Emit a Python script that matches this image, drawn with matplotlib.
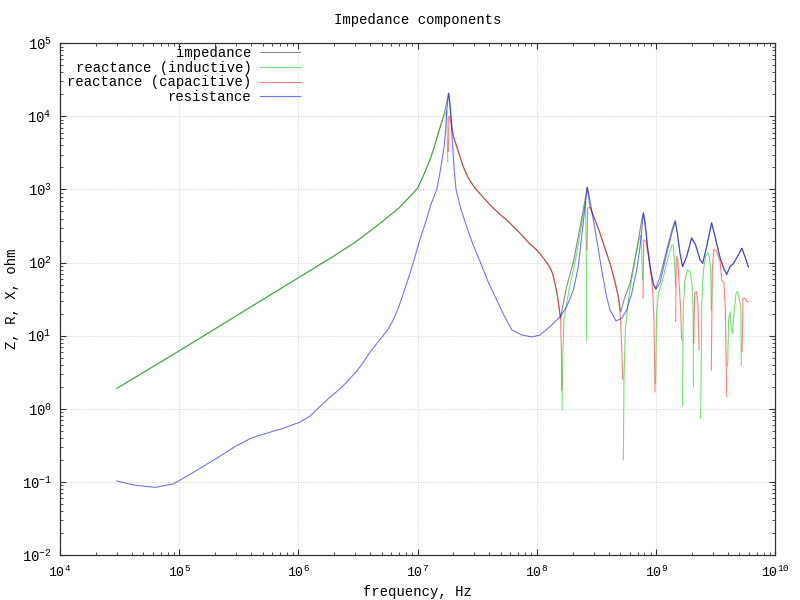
import numpy as np
import matplotlib
matplotlib.use("Agg")
import matplotlib.pyplot as plt

nan = np.nan

# impedance |Z|
imp_f = [3.0e4, 1.0e5, 1.0e6, 2.0e6, 3.0e6, 4.84e6, 7.0e6, 8.5e6, 1.0e7, 1.13e7,
         1.27e7, 1.38e7, 1.49e7, 1.58e7, 1.65e7, 1.75e7, 1.79e7, 1.82e7, 1.85e7, 1.87e7,
         1.93e7, 2.0e7, 2.13e7, 2.27e7, 2.4e7, 2.67e7, 3.03e7, 3.5e7, 4.06e7, 4.8e7,
         5.58e7, 6.5e7, 7.47e7, 8.6e7, 9.97e7, 1.064e8, 1.15e8, 1.29e8, 1.36e8, 1.42e8,
         1.47e8, 1.52e8, 1.555e8, 1.585e8, 1.67e8, 1.78e8, 2.03e8, 2.31e8, 2.54e8, 2.65e8,
         2.79e8, 3.39e8, 4.11e8, 4.83e8, 5.06e8, 5.5e8, 6.06e8, 6.89e8, 7.59e8, 7.84e8,
         8.25e8, 8.91e8, 9.5e8, 9.93e8, 1.08e9, 1.23e9, 1.36e9, 1.45e9, 1.51e9, 1.59e9,
         1.67e9, 1.81e9, 1.99e9, 2.15e9, 2.34e9, 2.46e9, 2.66e9, 2.93e9, 3.13e9, 3.45e9,
         3.72e9, 3.92e9, 4.18e9, 4.46e9, 4.91e9, 5.24e9, 5.59e9, 5.96e9]
imp_z = [1.9, 6.2, 62, 124, 190, 344, 560, 780, 1040, 1600,
         2540, 3800, 5870, 8000, 1.0e4, 1.5e4, 1.8e4, 2.07e4, 1.7e4, 1.3e4,
         8000, 5250, 3850, 2800, 2100, 1420, 1040, 800, 614, 470,
         383, 300, 239, 185, 149, 132, 112, 86, 70, 52,
         40, 28, 21, 17.3, 27.7, 46.9, 103, 310, 719, 1072,
         583, 252, 97.7, 34.2, 21.3, 34.2, 52, 149, 383, 482,
         252, 88, 49.4, 43.6, 64.3, 149, 279, 375, 252, 134,
         88, 121, 219, 174, 109, 97.7, 165, 352, 226, 118,
         83.6, 69.9, 88, 95.7, 127, 157, 118, 86]

# reactance (inductive), gaps where the sign flips
ind_f = [3.0e4, 1.0e5, 1.0e6, 2.0e6, 3.0e6, 4.84e6, 7.0e6, 8.5e6, 1.0e7, 1.13e7,
         1.27e7, 1.38e7, 1.49e7, 1.58e7, 1.65e7, 1.72e7, 1.76e7, 1.79e7, nan,
         1.63e8, 1.65e8, 1.69e8, 1.78e8, 1.9e8, 2.03e8, 2.16e8, 2.31e8, 2.46e8, 2.57e8, 2.61e8, 2.62e8, nan,
         5.32e8, 5.39e8, 5.53e8, 5.75e8, 6.06e8, 6.46e8, 6.89e8, 7.35e8, 7.54e8, 7.69e8, nan,
         9.93e8, 1.01e9, 1.05e9, 1.12e9, 1.19e9, 1.27e9, 1.36e9, 1.40e9, 1.44e9, 1.46e9, nan,
         1.67e9, 1.69e9, 1.75e9, 1.83e9, 1.93e9, 2.0e9, 2.05e9, 2.06e9, nan,
         2.37e9, 2.42e9, 2.5e9, 2.61e9, 2.71e9, 2.8e9, 2.88e9, 2.91e9, nan,
         3.99e9, 4.07e9, 4.18e9, 4.29e9, 4.37e9, 4.51e9, 4.69e9, 4.84e9, 5.0e9, 5.14e9, 5.2e9]
ind_z = [1.9, 6.2, 62, 124, 190, 344, 560, 780, 1040, 1600,
         2540, 3800, 5870, 8000, 9900, 1.1e4, 1.2e4, 2400, nan,
         0.96, 5.2, 16.4, 27.7, 49.4, 79.3, 134, 252, 472, 683, 79.3, 8.7, nan,
         0.2, 2.75, 12.0, 22.5, 44.5, 79.3, 149, 226, 239, 57.8, nan,
         2.2, 20.2, 38, 52.1, 79.3, 121, 174, 174, 79.3, 46.9, nan,
         1.13, 22.5, 57.8, 79.3, 75.2, 52.1, 22.5, 2.0, nan,
         0.74, 27.7, 79.3, 121, 137, 121, 79.3, 22.5, nan,
         3.8, 16.4, 21.3, 12.0, 10.8, 20.2, 38, 40.1, 30.8, 24.9, 3.97]

# reactance (capacitive)
cap_f = [1.81e7, 1.83e7, 1.87e7, 1.93e7, 2.0e7, 2.13e7, 2.27e7, 2.4e7, 2.67e7, 3.03e7,
         3.5e7, 4.06e7, 4.8e7, 5.58e7, 6.5e7, 7.47e7, 8.6e7, 9.97e7, 1.064e8, 1.15e8,
         1.29e8, 1.36e8, 1.42e8, 1.47e8, 1.52e8, 1.555e8, 1.585e8, 1.61e8, 1.62e8, nan,
         2.64e8, 2.67e8, 2.79e8, 3.08e8, 3.39e8, 3.73e8, 4.11e8, 4.53e8, 4.83e8, 5.02e8, 5.16e8, 5.26e8, nan,
         7.78e8, 7.89e8, 8.25e8, 8.91e8, 9.38e8, 9.62e8, 9.81e8, nan,
         1.46e9, 1.48e9, 1.52e9, 1.57e9, 1.61e9, 1.64e9, nan,
         2.07e9, 2.11e9, 2.18e9, 2.25e9, 2.3e9, nan,
         2.91e9, 2.97e9, 3.05e9, 3.17e9, 3.3e9, 3.45e9, 3.56e9, 3.72e9, 3.82e9, 3.92e9, nan,
         5.27e9, 5.37e9, 5.59e9, 5.77e9, 5.96e9]
cap_z = [3300, 1.0e4, 9900, 7000, 5250, 3850, 2800, 2100, 1420, 1040,
         800, 614, 470, 383, 300, 239, 185, 149, 132, 112,
         86, 70, 52, 40, 28, 21, 16.4, 5.2, 1.8, nan,
         149, 553, 571, 383, 252, 157, 97.7, 57.8, 34.2, 18.2, 7.1, 2.5, nan,
         32.4, 204, 194, 88, 42.2, 16.4, 1.7, nan,
         15.6, 121, 109, 46.9, 22.5, 8.7, nan,
         7.9, 38, 40.1, 27.7, 6.4, nan,
         3.4, 79.3, 149, 149, 127, 103, 57.8, 52.1, 22.5, 1.47, nan,
         6.05, 32.4, 32.4, 29.2, 29.2]

# resistance
res_f = [3.0e4, 4.1e4, 6.3e4, 8.9e4, 1.08e5, 1.49e5, 2.06e5, 3.0e5, 3.93e5, 4.6e5,
         5.4e5, 6.3e5, 7.47e5, 8.6e5, 1.0e6, 1.1e6, 1.25e6, 1.4e6, 1.62e6, 1.85e6,
         2.09e6, 2.4e6, 2.71e6, 3.1e6, 3.5e6, 4.0e6, 5.0e6, 5.6e6, 6.2e6, 6.9e6,
         7.6e6, 8.4e6, 9.2e6, 1.03e7, 1.16e7, 1.3e7, 1.45e7, 1.55e7, 1.67e7, 1.72e7,
         1.75e7, 1.79e7, 1.82e7, 1.86e7, 1.9e7, 1.93e7, 1.97e7, 2.02e7, 2.1e7, 2.3e7,
         2.58e7, 2.9e7, 3.34e7, 3.9e7, 4.6e7, 5.3e7, 6.17e7, 7.5e7, 9.1e7, 1.064e8,
         1.29e8, 1.57e8, 1.78e8, 2.03e8, 2.23e8, 2.38e8, 2.54e8, 2.65e8, 2.79e8, 2.98e8,
         3.22e8, 3.5e8, 3.85e8, 4.11e8, 4.62e8, 5.16e8, 5.68e8, 6.26e8, 6.89e8, 7.35e8,
         7.84e8, 8.15e8, 8.46e8, 9.02e8, 9.5e8, 1.0e9, 1.08e9, 1.23e9, 1.36e9, 1.45e9,
         1.51e9, 1.59e9, 1.67e9, 1.81e9, 1.99e9, 2.15e9, 2.34e9, 2.46e9, 2.66e9, 2.93e9,
         3.13e9, 3.45e9, 3.72e9, 3.92e9, 4.18e9, 4.46e9, 4.91e9, 5.24e9, 5.59e9, 5.96e9]
res_z = [0.103, 0.091, 0.084, 0.094, 0.112, 0.153, 0.21, 0.31, 0.39, 0.43,
         0.46, 0.50, 0.54, 0.59, 0.645, 0.70, 0.79, 0.95, 1.19, 1.45,
         1.71, 2.1, 2.61, 3.3, 4.3, 6.0, 9.5, 12, 16, 24,
         38, 62, 100, 190, 344, 640, 1000, 1800, 3850, 6500,
         1.1e4, 1.6e4, 2.07e4, 1.6e4, 1.1e4, 6500, 3850, 2000, 1000, 550,
         309, 180, 103, 55, 31, 19, 12, 10.2, 9.6, 10.2,
         13.3, 18.2, 24.9, 42.2, 88, 226, 583, 1072, 719, 383,
         184, 79.3, 34.2, 22.5, 15.9, 17.3, 22.5, 38, 79.3, 165,
         472, 345, 165, 79.3, 52.1, 43.1, 52.1, 134, 252, 363,
         252, 134, 88, 121, 215, 174, 109, 97.7, 165, 345,
         226, 114, 79.3, 67.7, 88, 97.7, 127, 157, 121, 88]

plt.rcParams["font.family"] = ["Liberation Mono", "DejaVu Sans Mono"]
plt.rcParams["mathtext.fontset"] = "custom"
plt.rcParams["mathtext.rm"] = "Liberation Mono"
plt.rcParams["mathtext.it"] = "Liberation Mono"
plt.rcParams["font.size"] = 10

fig = plt.figure(figsize=(8, 6), dpi=100)
ax = fig.add_axes([0.075, 0.075, 0.894, 0.853])

lw = 0.8
ax.plot(imp_f, imp_z, color="black", alpha=0.45, lw=lw, label="impedance")
ax.plot(ind_f, ind_z, color="#00cc00", alpha=0.55, lw=lw, label="reactance (inductive)")
ax.plot(cap_f, cap_z, color="#ff0000", alpha=0.5, lw=lw, label="reactance (capacitive)")
ax.plot(res_f, res_z, color="#0000ff", alpha=0.55, lw=lw, label="resistance")

ax.set_xscale("log")
ax.set_yscale("log")
ax.set_xlim(1e4, 1e10)
ax.set_ylim(1e-2, 1e5)
ax.grid(True, which="major", linestyle=(0, (1, 2)), color="#c4c4c4", linewidth=0.6)
ax.tick_params(which="both", direction="in", top=True, right=True, colors="#333333", labelcolor="black")
ax.tick_params(which="major", length=4.5, width=0.8)
ax.tick_params(which="minor", length=2.5, width=0.6)
ax.tick_params(axis="x", which="major", pad=7, labelsize=9.5)
ax.tick_params(axis="y", which="major", pad=6)
for s in ax.spines.values():
    s.set_color("#333333")
    s.set_linewidth(0.9)

ax.set_title("Impedance components", fontsize=10, pad=14)
ax.set_xlabel("frequency, Hz")
ax.set_ylabel("Z, R, X, ohm")
ax.xaxis.set_label_coords(0.5, -0.058)
ax.yaxis.set_label_coords(-0.058, 0.5)

ax.legend(loc="upper right", bbox_to_anchor=(300 / 800, 1 - 46 / 600),
          bbox_transform=fig.transFigure, frameon=False, markerfirst=False,
          handlelength=2.9, handletextpad=0.6, labelspacing=0.05,
          borderpad=0, borderaxespad=0)

fig.savefig("out.png", dpi=100)
